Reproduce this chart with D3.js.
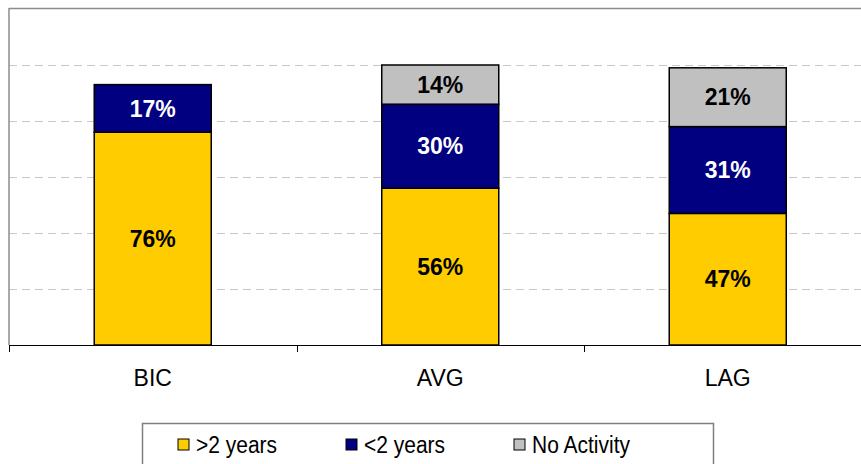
<!DOCTYPE html>
<html>
<head>
<meta charset="utf-8">
<script src="https://cdn.jsdelivr.net/npm/d3@7"></script>
<style>
  html, body { margin: 0; padding: 0; background: #fff; }
  svg { display: block; font-family: "Liberation Sans", Arial, sans-serif; }
</style>
</head>
<body>
<svg id="chart" width="861" height="464"></svg>
<script>
// Categories and stacked shares (percent)
const categories = ["BIC", "AVG", "LAG"];
const seriesNames = [">2 years", "<2 years", "No Activity"];
const over2Years = [76, 56, 47];
const under2Years = [17, 30, 31];
const noActivity = [0, 14, 21];
const gridTicks = [20, 40, 60, 80, 100];

const colors = ["#FFCC00", "#000080", "#C0C0C0"];
const labelColors = ["#000", "#fff", "#000"];

const svg = d3.select("#chart");

const x0 = 9, x1 = 871.5, yBase = 345, yTop = 9;
const x = d3.scaleBand().domain(categories).range([x0, x1]).paddingInner(0.593).paddingOuter(0.2965);
const xBand = d3.scaleBand().domain(categories).range([x0, x1]);
const y = d3.scaleLinear().domain([0, 120]).range([yBase, yTop]);

// Plot frame (top and left edges)
svg.append("line").attr("x1", x0).attr("x2", 861).attr("y1", y(120) - 0.5).attr("y2", y(120) - 0.5)
  .attr("stroke", "#8c8c8c").attr("stroke-width", 1.5);

// Dashed gridlines
svg.append("g").selectAll("line").data(gridTicks).join("line")
  .attr("x1", x0).attr("x2", 861)
  .attr("y1", d => Math.round(y(d)) + 0.5).attr("y2", d => Math.round(y(d)) + 0.5)
  .attr("stroke", "#c8c8c8").attr("stroke-width", 1)
  .attr("stroke-dasharray", "8,5");

// Left axis line
svg.append("line").attr("x1", x0).attr("x2", x0).attr("y1", y(120) - 1).attr("y2", yBase)
  .attr("stroke", "#8c8c8c").attr("stroke-width", 1.5);

// Stacked data
const rows = categories.map((c, i) => ({ cat: c, s0: over2Years[i], s1: under2Years[i], s2: noActivity[i] }));
const stack = d3.stack().keys(["s0", "s1", "s2"])(rows);

const layers = svg.append("g").selectAll("g").data(stack).join("g")
  .attr("fill", (d, i) => colors[i]);

layers.selectAll("rect").data(d => d.filter(p => p[1] - p[0] > 0)).join("rect")
  .attr("x", d => x(d.data.cat))
  .attr("width", x.bandwidth())
  .attr("y", d => y(d[1]))
  .attr("height", d => y(d[0]) - y(d[1]))
  .attr("stroke", "#000").attr("stroke-width", 1.5);

// Value labels
stack.forEach((layer, i) => {
  svg.append("g").selectAll("text").data(layer.filter(p => p[1] - p[0] > 0)).join("text")
    .attr("x", d => x(d.data.cat) + x.bandwidth() / 2)
    .attr("y", d => (y(d[0]) + y(d[1])) / 2)
    .attr("dy", "0.36em")
    .attr("text-anchor", "middle")
    .attr("font-size", 23).attr("font-weight", "bold")
    .attr("fill", labelColors[i])
    .text(d => (d[1] - d[0]) + "%");
});

// Category axis
const xAxis = d3.axisBottom(xBand).tickSize(0).tickSizeOuter(0);
const axisG = svg.append("g").attr("transform", `translate(0,${yBase})`).call(xAxis);
axisG.select(".domain").attr("stroke", "#000").attr("stroke-width", 1.2);
axisG.selectAll("text").attr("font-size", 23).attr("fill", "#000")
  .attr("font-family", "Liberation Sans, Arial, sans-serif").attr("y", 25).attr("dy", "0.71em");

// Tick marks between categories
const boundaries = categories.map(c => xBand(c)).concat([x1]);
svg.append("g").selectAll("line").data(boundaries).join("line")
  .attr("x1", d => Math.round(d) + 0.5).attr("x2", d => Math.round(d) + 0.5)
  .attr("y1", yBase).attr("y2", yBase + 7)
  .attr("stroke", "#000").attr("stroke-width", 1);

// Legend
const legend = svg.append("g");
legend.append("rect").attr("x", 142.5).attr("y", 423.5).attr("width", 571).attr("height", 60)
  .attr("fill", "#fff").attr("stroke", "#7f7f7f").attr("stroke-width", 1.5);
const legendX = [178, 346, 514];
const items = legend.selectAll("g.item").data(seriesNames).join("g").attr("class", "item")
  .attr("transform", (d, i) => `translate(${legendX[i]},439)`);
items.append("rect").attr("width", 11).attr("height", 11)
  .attr("fill", (d, i) => colors[i]).attr("stroke", "#000").attr("stroke-width", 1);
items.append("text").attr("transform", "translate(18,5.5) scale(1,1.1)").attr("dy", "0.36em")
  .attr("font-size", 21).attr("fill", "#000").text(d => d);
</script>
</body>
</html>
